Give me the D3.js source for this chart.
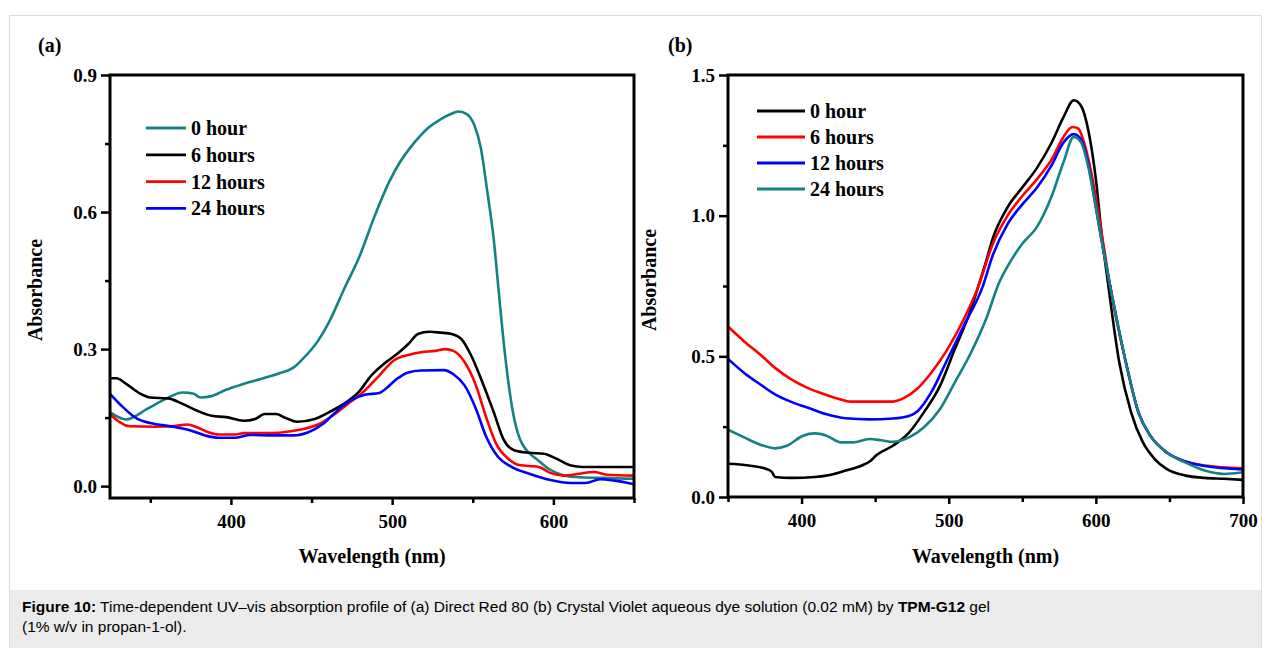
<!DOCTYPE html>
<html>
<head>
<meta charset="utf-8">
<title>Figure 10 - UV-vis absorption</title>
<script src="https://cdn.jsdelivr.net/npm/d3@7/dist/d3.min.js"></script>
<style>
    body{
        margin: 0;
        background: #fff;
    }
    svg text{
        font-family: "Liberation Serif", "Times New Roman", serif;
        font-weight: bold;
        fill: #000;
    }
    .axis path, .axis line{
        stroke: #000;
        stroke-width: 2.5px;
    }
    .axis text{
        font-size: 19px;
    }
    .curve{
        fill: none;
        stroke-width: 2.6px;
        stroke-linejoin: round;
    }
    .caption{
        font-family: "Liberation Sans", Arial, sans-serif;
        font-size: 15.5px;
        font-weight: normal;
    }
</style>
</head>
<body>
<svg id="fig" width="1270" height="648"></svg>
<script>
// colours
var teal = "#148282", black = "#000000", red = "#ff0000", blue = "#0000ff";

// ---- panel (a) : Direct Red 80 ----
var aLegend = ["0 hour", "6 hours", "12 hours", "24 hours"];
var aColors = [teal, black, red, blue];
var aTicksMajor = [400, 500, 600];
var aTicksMinor = [350, 450, 550, 650];
var aYMajor = [0, 0.3, 0.6, 0.9];
var aYMinor = [0.15, 0.45, 0.75];

var a0h = [[325,0.162],[335,0.146],[348,0.169],[359,0.19],[370,0.205],[377,0.202],[381,0.194],[388,0.197],
    [397,0.211],[408,0.224],[419,0.235],[430,0.247],[439,0.26],[445,0.28],[454,0.318],[461,0.36],[470,0.43],
    [480,0.505],[489,0.59],[498,0.665],[505,0.71],[511,0.74],[517,0.765],[523,0.786],[530,0.803],[536,0.814],
    [541,0.82],[546,0.815],[551,0.79],[555,0.74],[559,0.645],[563,0.54],[566,0.43],[569,0.32],[572,0.23],
    [575,0.16],[579,0.105],[583,0.08],[590,0.058],[597,0.038],[605,0.025],[614,0.02],[630,0.018],[650,0.016]];
var a6h = [[325,0.236],[329,0.236],[335,0.224],[344,0.202],[350,0.194],[361,0.192],[370,0.18],[379,0.165],
    [388,0.154],[397,0.151],[408,0.143],[415,0.147],[421,0.158],[428,0.158],[434,0.149],[441,0.141],[452,0.147],
    [461,0.162],[470,0.18],[479,0.205],[487,0.242],[496,0.271],[503,0.289],[510,0.311],[516,0.333],[523,0.338],
    [530,0.336],[537,0.333],[543,0.322],[549,0.286],[556,0.227],[563,0.162],[569,0.103],[576,0.078],[585,0.073],
    [594,0.071],[602,0.06],[611,0.045],[618,0.042],[629,0.042],[650,0.042]];
var a12h = [[325,0.158],[331,0.14],[337,0.131],[353,0.13],[364,0.131],[373,0.135],[379,0.129],[386,0.118],
    [392,0.113],[403,0.113],[408,0.116],[419,0.116],[430,0.117],[437,0.12],[445,0.125],[454,0.135],[463,0.154],
    [474,0.184],[483,0.209],[492,0.242],[501,0.275],[510,0.287],[518,0.293],[527,0.296],[533,0.3],[538,0.296],
    [545,0.271],[552,0.22],[558,0.154],[565,0.089],[572,0.06],[578,0.047],[585,0.044],[591,0.042],[598,0.029],
    [607,0.023],[616,0.027],[625,0.031],[633,0.025],[650,0.023]];
var a24h = [[325,0.202],[333,0.173],[342,0.147],[350,0.138],[364,0.13],[375,0.122],[384,0.111],[392,0.106],
    [403,0.106],[412,0.112],[426,0.111],[439,0.111],[448,0.118],[457,0.136],[465,0.162],[474,0.187],[483,0.2],
    [492,0.204],[496,0.213],[503,0.235],[510,0.249],[518,0.253],[532,0.254],[538,0.245],[545,0.22],[552,0.169],
    [558,0.111],[565,0.067],[574,0.042],[585,0.027],[596,0.015],[611,0.007],[620,0.007],[629,0.015],[638,0.012],
    [650,0.004]];

// ---- panel (b) : Crystal Violet ----
var bLegend = ["0 hour", "6 hours", "12 hours", "24 hours"];
var bColors = [black, red, blue, teal];
var bTicksMajor = [400, 500, 600, 700];
var bTicksMinor = [350, 450, 550, 650];
var bYMajor = [0, 0.5, 1.0, 1.5];
var bYMinor = [0.25, 0.75, 1.25];

var b0h = [[350,0.118],[364,0.112],[377,0.098],[380,0.088],[382,0.071],[393,0.068],[409,0.071],[420,0.079],
    [430,0.094],[441,0.112],[447,0.129],[451,0.149],[462,0.182],[473,0.229],[483,0.3],[494,0.394],[504,0.524],
    [515,0.665],[520,0.747],[525,0.83],[530,0.92],[540,1.03],[550,1.1],[560,1.17],[570,1.26],[578,1.35],
    [585,1.41],[590,1.39],[595,1.3],[600,1.13],[604,0.93],[608,0.77],[616,0.476],[624,0.3],[632,0.194],
    [640,0.135],[648,0.1],[661,0.076],[674,0.068],[687,0.065],[700,0.061]];
var b6h = [[350,0.606],[361,0.553],[372,0.506],[382,0.459],[393,0.418],[404,0.388],[414,0.368],[425,0.349],
    [433,0.339],[449,0.339],[462,0.339],[470,0.353],[478,0.382],[488,0.441],[499,0.524],[510,0.629],[520,0.747],
    [530,0.9],[540,1.0],[550,1.07],[560,1.13],[570,1.2],[578,1.28],[584,1.315],[588,1.31],[592,1.26],[597,1.15],
    [602,1.0],[606,0.87],[609,0.77],[621,0.465],[629,0.3],[637,0.218],[648,0.159],[661,0.126],[674,0.112],
    [700,0.102]];
var b12h = [[350,0.491],[361,0.441],[372,0.4],[382,0.365],[393,0.338],[404,0.318],[417,0.294],[430,0.28],
    [446,0.276],[462,0.279],[473,0.288],[479,0.306],[488,0.371],[499,0.488],[510,0.606],[523,0.747],[530,0.86],
    [540,0.97],[550,1.04],[560,1.1],[570,1.18],[578,1.26],[585,1.29],[590,1.27],[595,1.18],[600,1.03],
    [605,0.88],[609,0.77],[621,0.465],[629,0.3],[637,0.218],[648,0.159],[661,0.126],[674,0.11],[700,0.098]];
var b24h = [[350,0.239],[361,0.212],[372,0.186],[382,0.173],[390,0.182],[401,0.218],[409,0.226],[417,0.218],
    [427,0.194],[435,0.194],[446,0.206],[454,0.202],[462,0.196],[473,0.212],[483,0.247],[494,0.312],[504,0.406],
    [515,0.512],[526,0.641],[534,0.759],[540,0.82],[550,0.9],[560,0.96],[570,1.07],[578,1.19],[585,1.28],
    [590,1.26],[595,1.17],[600,1.03],[605,0.88],[609,0.77],[621,0.465],[629,0.3],[637,0.218],[648,0.159],
    [661,0.122],[674,0.094],[687,0.082],[700,0.088]];

var svg = d3.select("#fig");

// figure frame + caption band
svg.append("rect").attr("x", 9.5).attr("y", 15.5).attr("width", 1252).attr("height", 640)
    .attr("fill", "#fff").attr("stroke", "#dcdcdc");
svg.append("rect").attr("x", 10).attr("y", 590).attr("width", 1251).attr("height", 60).attr("fill", "#ebebeb");

var cap = svg.append("text").attr("class", "caption").attr("x", 22).attr("y", 612);
cap.append("tspan").style("font-weight", "bold").text("Figure 10:");
cap.append("tspan").text(" Time-dependent UV\u2013vis absorption profile of (a) Direct Red 80 (b) Crystal Violet aqueous dye solution (0.02 mM) by ");
cap.append("tspan").style("font-weight", "bold").text("TPM-G12");
cap.append("tspan").text(" gel");
svg.append("text").attr("class", "caption").attr("x", 22).attr("y", 632).text("(1% w/v in propan-1-ol).");

function drawPanel(p) {
    var x = d3.scaleLinear().domain(p.xDomain).range([p.left, p.right]);
    var y = d3.scaleLinear().domain(p.yDomain).range([p.bottom, p.top]);
    var g = svg.append("g");

    // curves
    var line = d3.line().x(function (d) {return x(d[0]);}).y(function (d) {return y(d[1]);})
        .curve(d3.curveMonotoneX);
    p.series.forEach(function (s, i) {
        g.append("path").datum(s).attr("class", "curve").attr("stroke", p.colors[i]).attr("d", line);
    });

    // axes
    g.append("g").attr("class", "axis").attr("transform", "translate(0," + p.bottom + ")")
        .call(d3.axisBottom(x).tickValues(p.xMajor).tickSize(7).tickSizeOuter(0).tickPadding(10)
            .tickFormat(d3.format("d")));
    g.append("g").attr("class", "axis").attr("transform", "translate(0," + p.bottom + ")")
        .call(d3.axisBottom(x).tickValues(p.xMinor).tickSize(5).tickSizeOuter(0).tickFormat(""));
    g.append("g").attr("class", "axis").attr("transform", "translate(" + p.left + ",0)")
        .call(d3.axisLeft(y).tickValues(p.yMajor).tickSize(9).tickSizeOuter(0).tickPadding(4)
            .tickFormat(d3.format(".1f")));
    g.append("g").attr("class", "axis").attr("transform", "translate(" + p.left + ",0)")
        .call(d3.axisLeft(y).tickValues(p.yMinor).tickSize(5).tickSizeOuter(0).tickFormat(""));
    g.selectAll(".axis .domain").remove();

    // box
    g.append("rect").attr("x", p.left).attr("y", p.top)
        .attr("width", p.right - p.left).attr("height", p.bottom - p.top)
        .attr("fill", "none").attr("stroke", "#000").attr("stroke-width", 3);

    // labels
    g.append("text").attr("x", p.tagX).attr("y", 52).style("font-size", "20px").text(p.tag);
    g.append("text").attr("x", (p.left + p.right) / 2).attr("y", 563).attr("text-anchor", "middle")
        .style("font-size", "20px").text("Wavelength (nm)");
    g.append("text").attr("transform", "translate(" + p.yLabelX + "," + p.yLabelY + ") rotate(-90)")
        .attr("text-anchor", "middle").style("font-size", "20px").text("Absorbance");

    // legend
    p.legend.forEach(function (name, i) {
        var ly = p.legY + i * p.legStep;
        g.append("line").attr("x1", p.legX).attr("x2", p.legX + p.legLen).attr("y1", ly).attr("y2", ly)
            .attr("stroke", p.colors[i]).attr("stroke-width", 2.8);
        g.append("text").attr("x", p.legX + p.legLen + 5).attr("y", ly).attr("dy", "0.35em")
            .style("font-size", "20px").text(name);
    });
}

drawPanel({
    xDomain: [325, 650], yDomain: [-0.026, 0.9],
    left: 110, right: 634, top: 75, bottom: 498,
    xMajor: aTicksMajor, xMinor: aTicksMinor, yMajor: aYMajor, yMinor: aYMinor,
    series: [a0h, a6h, a12h, a24h], colors: aColors, legend: aLegend,
    legX: 146, legY: 128, legStep: 26.8, legLen: 40,
    tag: "(a)", tagX: 38, yLabelX: 42, yLabelY: 290
});

drawPanel({
    xDomain: [350, 700], yDomain: [0, 1.5],
    left: 728, right: 1243, top: 75, bottom: 497,
    xMajor: bTicksMajor, xMinor: bTicksMinor, yMajor: bYMajor, yMinor: bYMinor,
    series: [b0h, b6h, b12h, b24h], colors: bColors, legend: bLegend,
    legX: 757, legY: 111, legStep: 26, legLen: 48,
    tag: "(b)", tagX: 668, yLabelX: 656, yLabelY: 280
});
</script>
</body>
</html>
